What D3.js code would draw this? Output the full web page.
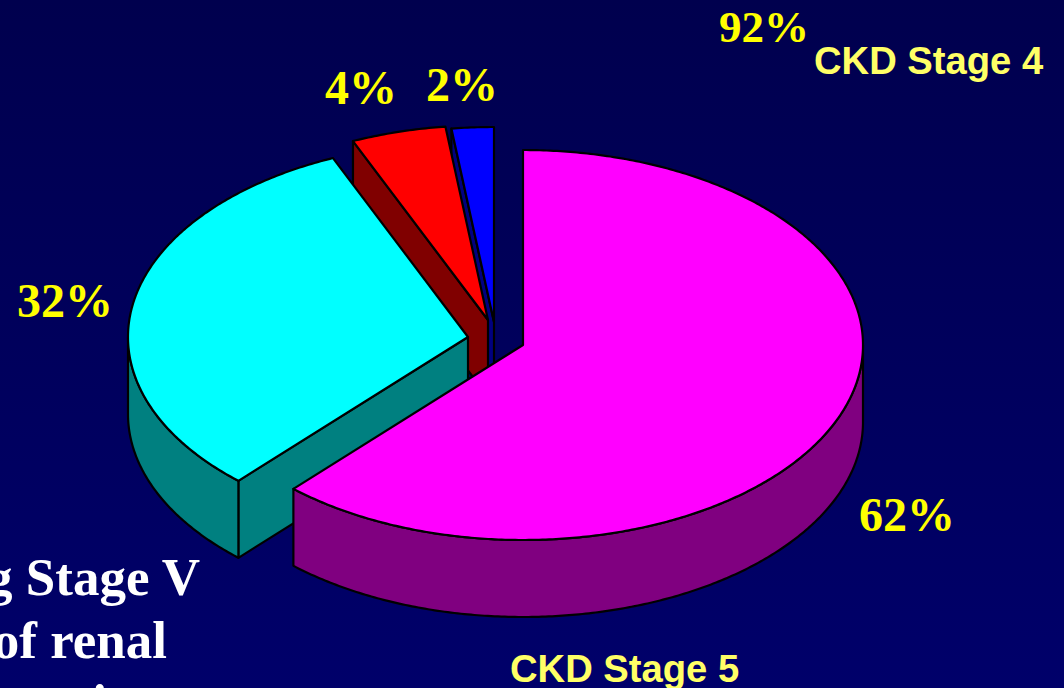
<!DOCTYPE html>
<html>
<head>
<meta charset="utf-8">
<script src="https://cdn.jsdelivr.net/npm/d3@7"></script>
<style>
  html, body { margin: 0; padding: 0; overflow: hidden; background: #00005c; }
  svg { display: block; }
</style>
</head>
<body>
<svg></svg>
<script>
///////////////////////////////////////////
////////////////// Data ///////////////////
///////////////////////////////////////////
const sliceValues = [61.8, 31.7, 4.5, 2]
const sliceLabels = ["62%", "32%", "4%", "2%"]

const stageNames = ["CKD Stage 4", "CKD Stage 5"]
const stagePercent = "92%"
const captionLines = ["g Stage V", "of renal", "i"]

///////////////////////////////////////////
//////////////// Constants ////////////////
///////////////////////////////////////////
const width = 1064
const height = 688

const radiusX = 340
const radiusY = 195
const depth = 77

// where each slice's apex sits after exploding the pie
const apexes = [[523, 345], [468, 337], [488, 320], [494, 322]]

const topColours = ["#ff00ff", "#00ffff", "#ff0000", "#0000ff"]
const wallColours = ["#800080", "#008080", "#800000", "#000080"]

const labelPositions = [[859, 531], [17, 317], [325, 104], [426, 101]]

const percentColour = "#ffff00"
const stageColour = "#ffff66"

const serif = "'Liberation Serif', 'Times New Roman', serif"
const sans = "'Liberation Sans', Arial, sans-serif"

///////////////////////////////////////////
//////////// Helper Functions /////////////
///////////////////////////////////////////
const line = d3.line()

// a point on a slice rim, angle is clockwise from 12 o'clock
const rim = (apex, a, drop = 0) => [
  apex[0] + radiusX * Math.sin(a),
  apex[1] - radiusY * Math.cos(a) + drop
]

const sampleAngles = (a0, a1) => {
  const n = Math.max(2, Math.ceil((a1 - a0) / 0.01))
  return d3.range(n + 1).map(i => a0 + (a1 - a0) * i / n)
}

const topPath = d => {
  const apex = apexes[d.index]
  return line([apex, ...sampleAngles(d.startAngle, d.endAngle).map(a => rim(apex, a))]) + "Z"
}

const radialWall = (apex, a) => line([
  apex, rim(apex, a), rim(apex, a, depth), [apex[0], apex[1] + depth]
]) + "Z"

// one path per slice of walls that face the viewer
const wallPaths = d => {
  const apex = apexes[d.index]
  const paths = []
  if (Math.sin(d.startAngle) < -1e-6) paths.push(radialWall(apex, d.startAngle))
  if (Math.sin(d.endAngle) > 1e-6) paths.push(radialWall(apex, d.endAngle))
  const a0 = Math.max(d.startAngle, Math.PI / 2)
  const a1 = Math.min(d.endAngle, Math.PI * 1.5)
  if (a1 > a0) {
    const angles = sampleAngles(a0, a1)
    const upper = angles.map(a => rim(apex, a))
    const lower = angles.map(a => rim(apex, a, depth)).reverse()
    paths.push(line([...upper, ...lower]) + "Z")
  }
  return paths
}

///////////////////////////////////////////
///////////////// Graph ///////////////////
///////////////////////////////////////////
const svg = d3.select("svg")
  .attr("width", width)
  .attr("height", height)

const defs = svg.append("defs")
const bg = defs.append("linearGradient")
  .attr("id", "bg")
  .attr("x1", 0).attr("y1", 0)
  .attr("x2", 0).attr("y2", 1)
bg.append("stop").attr("offset", 0).attr("stop-color", "#00004e")
bg.append("stop").attr("offset", 1).attr("stop-color", "#00006a")

svg.append("rect")
  .attr("width", width)
  .attr("height", height)
  .attr("fill", "url(#bg)")

const pie = d3.pie().sort(null)
const slices = pie(sliceValues)

// painter's order, the small back slices first
const sliceG = svg.selectAll(".slice")
  .data(slices.slice().reverse())
  .join("g")
  .classed("slice", true)
    .attr("stroke", "#000")
    .attr("stroke-width", 2.2)
    .attr("stroke-linejoin", "round")

sliceG.selectAll(".wall")
  .data(d => wallPaths(d).map(p => ({ p, i: d.index })))
  .join("path")
  .classed("wall", true)
    .attr("d", d => d.p)
    .attr("fill", d => wallColours[d.i])

sliceG.append("path")
  .attr("d", topPath)
  .attr("fill", d => topColours[d.index])

///////////////////////////////////////////
///////////////// Text ////////////////////
///////////////////////////////////////////
svg.selectAll(".pct")
  .data(sliceLabels)
  .join("text")
  .classed("pct", true)
    .attr("x", (d, i) => labelPositions[i][0])
    .attr("y", (d, i) => labelPositions[i][1])
    .attr("font-family", serif)
    .attr("font-weight", "bold")
    .attr("font-size", 48)
    .attr("fill", percentColour)
    .text(d => d)

svg.append("text")
  .attr("x", 719)
  .attr("y", 42)
  .attr("font-family", serif)
  .attr("font-weight", "bold")
  .attr("font-size", 45)
  .attr("fill", percentColour)
  .text(stagePercent)

const stagePositions = [[814, 74], [510, 682]]
svg.selectAll(".stage")
  .data(stageNames)
  .join("text")
  .classed("stage", true)
    .attr("x", (d, i) => stagePositions[i][0])
    .attr("y", (d, i) => stagePositions[i][1])
    .attr("font-family", sans)
    .attr("font-weight", "bold")
    .attr("font-size", 38.2)
    .attr("fill", stageColour)
    .text(d => d)

// caption runs off the slide, only its right end shows
const captionPositions = [[200, 595], [167, 658], [107, 721]]
svg.selectAll(".caption")
  .data(captionLines)
  .join("text")
  .classed("caption", true)
    .attr("x", (d, i) => captionPositions[i][0])
    .attr("y", (d, i) => captionPositions[i][1])
    .attr("text-anchor", "end")
    .attr("font-family", serif)
    .attr("font-weight", "bold")
    .attr("font-size", 53)
    .attr("fill", "#fff")
    .text(d => d)
</script>
</body>
</html>
